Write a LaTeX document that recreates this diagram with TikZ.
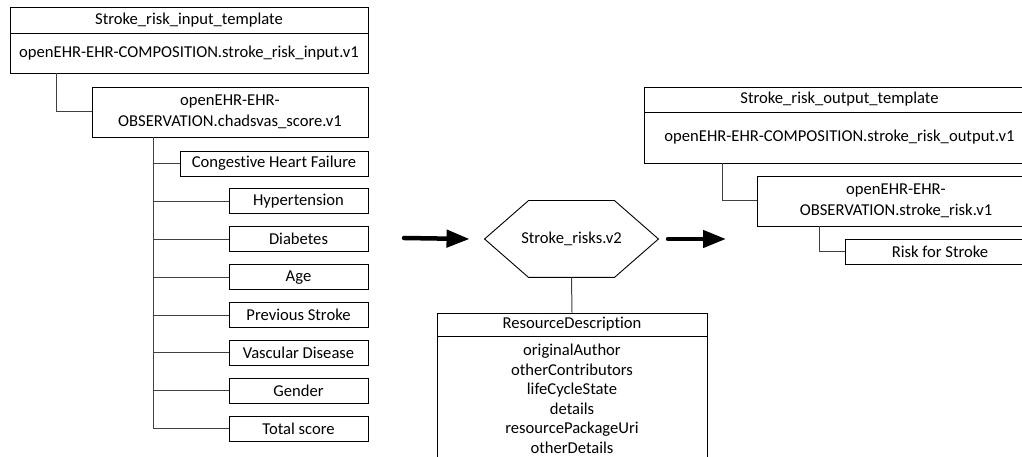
\documentclass[tikz,border=0pt]{standalone}
\usepackage{fontspec}
\setmainfont{Carlito}[Ligatures=NoCommon]
\usepackage{tikz}
\usetikzlibrary{arrows.meta}

\begin{document}
\begin{tikzpicture}[x=1pt,y=1pt,
  boxStyle/.style={draw=drawColor,line width=0.9pt,inner sep=0pt,align=center,font=\fontsize{16.6}{20.5}\selectfont},
  linkStyle/.style={draw=linkColor,line width=1pt},
  flowStyle/.style={draw=drawColor,line width=4.5pt,line cap=round,-{Triangle[length=23pt,width=17pt]}}]
\definecolor{fillColor}{RGB}{255,255,255}
\definecolor{drawColor}{RGB}{0,0,0}
\definecolor{linkColor}{RGB}{64,64,64}
\path[use as bounding box,fill=fillColor] (0,0) rectangle (1022,457);
\begin{scope}
\path[clip] (0,0) rectangle (1022,457);

% input template
\node[boxStyle,minimum width=358,minimum height=25.5] (inTitle) at (189,436.75) {Stroke\_risk\_input\_template};
\node[boxStyle,minimum width=358,minimum height=40] (inBody) at (189,404) {openEHR-EHR-COMPOSITION.stroke\_risk\_input.v1};
\node[boxStyle,minimum width=276,minimum height=50] (inObs) at (230,345) {openEHR-EHR-\\OBSERVATION.chadsvas\_score.v1};

\node[boxStyle,minimum width=188,minimum height=25] (chf) at (274,293.5) {Congestive Heart Failure};
\node[boxStyle,minimum width=139,minimum height=25] (hyp) at (298.5,255.6) {Hypertension};
\node[boxStyle,minimum width=139,minimum height=25] (dia) at (298.5,217.7) {Diabetes};
\node[boxStyle,minimum width=139,minimum height=25] (age) at (298.5,179.8) {Age};
\node[boxStyle,minimum width=139,minimum height=25] (prs) at (298.5,141.9) {Previous Stroke};
\node[boxStyle,minimum width=139,minimum height=25] (vas) at (298.5,104) {Vascular Disease};
\node[boxStyle,minimum width=139,minimum height=25] (gen) at (298.5,66.1) {Gender};
\node[boxStyle,minimum width=139,minimum height=25] (tot) at (298.5,28.2) {Total score};

\path[linkStyle] ([xshift=47]inBody.south west) |- (inObs.west);
\coordinate (trunk) at ([xshift=62]inObs.south west);
\path[linkStyle] (trunk) |- (chf.west);
\path[linkStyle] (trunk) |- (hyp.west);
\path[linkStyle] (trunk) |- (dia.west);
\path[linkStyle] (trunk) |- (age.west);
\path[linkStyle] (trunk) |- (prs.west);
\path[linkStyle] (trunk) |- (vas.west);
\path[linkStyle] (trunk) |- (gen.west);
\path[linkStyle] (trunk) |- (tot.west);

% archetype
\node[boxStyle,draw=none,minimum width=173,minimum height=76] (risks) at (571.5,218) {Stroke\_risks.v2};
\path[draw=drawColor,line width=0.9pt,line join=miter] (risks.west) -- ([xshift=44]risks.north west) -- ([xshift=-44]risks.north east)
  -- (risks.east) -- ([xshift=-44]risks.south east) -- ([xshift=44]risks.south west) -- cycle;
\node[boxStyle,minimum width=270,minimum height=23] (resTitle) at (572,132.5) {ResourceDescription};
\node[boxStyle,minimum width=270,anchor=north,inner ysep=7,font=\fontsize{16.6}{19.6}\selectfont] (resBody) at (resTitle.south) {originalAuthor\\otherContributors\\lifeCycleState\\details\\resourcePackageUri\\otherDetails\\[6pt]};
\path[linkStyle] (risks.south) -- (resTitle.north);

\coordinate (inFlow) at (404,219);
\coordinate (outFlow) at (668,218);
\path[flowStyle] (inFlow) -- ([xshift=-15]risks.west);
\path[flowStyle] (outFlow) -- ++(58,0);

% output template
\node[boxStyle,minimum width=391,minimum height=25] (outTitle) at (839.5,357.5) {Stroke\_risk\_output\_template};
\node[boxStyle,minimum width=391,minimum height=51] (outBody) at (839.5,319.5) {openEHR-EHR-COMPOSITION.stroke\_risk\_output.v1};
\node[boxStyle,minimum width=278,minimum height=50] (outObs) at (896,256) {openEHR-EHR-\\OBSERVATION.stroke\_risk.v1};
\node[boxStyle,minimum width=190,minimum height=25] (riskStroke) at (940,205.5) {Risk for Stroke};

\path[linkStyle] ([xshift=79]outBody.south west) |- (outObs.west);
\path[linkStyle] ([xshift=63]outObs.south west) |- (riskStroke.west);
\end{scope}
\end{tikzpicture}
\end{document}
